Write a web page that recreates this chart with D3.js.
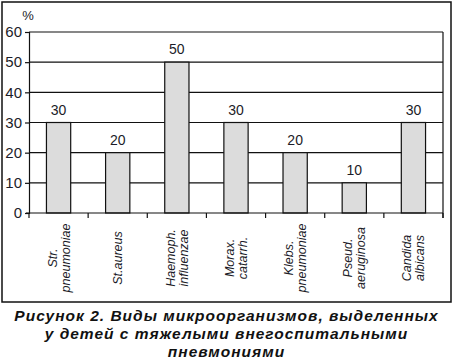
<!DOCTYPE html>
<html><head><meta charset="utf-8">
<script src="https://cdn.jsdelivr.net/npm/d3@7"></script>
<style>body{margin:0;background:#fff}svg{display:block}</style>
</head><body>
<script>
const categories = [["Str.","pneumoniae"],["St.aureus"],["Haemoph.","influenzae"],["Morax.","catarrh."],["Klebs.","pneumoniae"],["Pseud.","aeruginosa"],["Candida","albicans"]];
const values = [30,20,50,30,20,10,30];
const yTicks = [0,10,20,30,40,50,60];
const titleLines = ["Рисунок 2. Виды микроорганизмов, выделенных","у детей с тяжелыми внегоспитальными","пневмониями"];

const W=453,H=363;
const svg=d3.select("body").append("svg").attr("width",W).attr("height",H);
svg.append("rect").attr("x",2).attr("y",2).attr("width",449).attr("height",300)
  .attr("fill","none").attr("stroke","#111").attr("stroke-width",1.5);

const L=29,R=443,T=32,B=213;
const x=d3.scaleBand().domain(d3.range(categories.length)).range([L,R]).paddingInner(0.59).paddingOuter(0.295);
const xb=d3.scaleBand().domain(d3.range(categories.length)).range([L,R]);
const y=d3.scaleLinear().domain([0,60]).range([B,T]);

const g=svg.append("g");
g.selectAll(".grid").data(yTicks.filter(d=>d>0)).join("line")
  .attr("x1",L).attr("x2",R).attr("y1",d=>y(d)).attr("y2",d=>y(d))
  .attr("stroke","#111").attr("stroke-width",1.2);
g.append("line").attr("x1",R).attr("x2",R).attr("y1",T).attr("y2",B+5).attr("stroke","#111").attr("stroke-width",1.2);

g.selectAll(".bar").data(values).join("rect")
  .attr("x",(d,i)=>x(i)).attr("width",x.bandwidth())
  .attr("y",d=>y(d)).attr("height",d=>B-y(d))
  .attr("fill","#dcdcdc").attr("stroke","#111").attr("stroke-width",1.2);

const ya=d3.axisLeft(y).tickValues(yTicks).tickSize(4).tickPadding(3);
const yg=g.append("g").attr("transform",`translate(${L},0)`).call(ya);
yg.select(".domain").attr("stroke","#111").attr("stroke-width",1.2);
yg.selectAll(".tick line").attr("stroke","#111").attr("stroke-width",1.2);
yg.selectAll(".tick text").attr("font-family","Liberation Sans, Arial, sans-serif").attr("font-size",15).attr("fill","#1c1c28");

g.append("line").attr("x1",L-3).attr("x2",R).attr("y1",B).attr("y2",B).attr("stroke","#111").attr("stroke-width",1.2);
g.selectAll(".xt").data(d3.range(categories.length+1)).join("line")
  .attr("x1",i=>L+i*xb.bandwidth()).attr("x2",i=>L+i*xb.bandwidth())
  .attr("y1",B).attr("y2",B+5).attr("stroke","#111").attr("stroke-width",1.2);

g.selectAll(".vl").data(values).join("text")
  .attr("x",(d,i)=>x(i)+x.bandwidth()/2).attr("y",d=>y(d)-8)
  .attr("text-anchor","middle").attr("font-family","Liberation Sans, Arial, sans-serif")
  .attr("font-size",14).attr("fill","#1c1c28").text(d=>d);

svg.append("text").attr("x",28).attr("y",20).attr("text-anchor","middle")
  .attr("font-family","Liberation Sans, Arial, sans-serif").attr("font-size",13).attr("fill","#1c1c28").text("%");

categories.forEach((lines,i)=>{
  const cx=xb(i)+xb.bandwidth()/2, cy=258;
  const t=svg.append("text").attr("transform",`translate(${cx},${cy}) rotate(-90)`)
    .attr("text-anchor","middle").attr("font-family","Liberation Sans, Arial, sans-serif")
    .attr("font-style","italic").attr("font-size",12.5).attr("fill","#1c1c28");
  const n=lines.length, lh=13;
  lines.forEach((s,j)=>{
    t.append("tspan").attr("x",0).attr("y",(j-(n-1)/2)*lh+4.5).text(s);
  });
});

titleLines.forEach((s,j)=>{
  svg.append("text").attr("x",226.5).attr("y",321+j*18).attr("text-anchor","middle")
    .attr("font-family","Liberation Sans, Arial, sans-serif").attr("font-weight","bold").attr("font-style","italic")
    .attr("font-size",15.5).attr("letter-spacing",1).attr("fill","#111").text(s);
});
</script>
</body></html>
